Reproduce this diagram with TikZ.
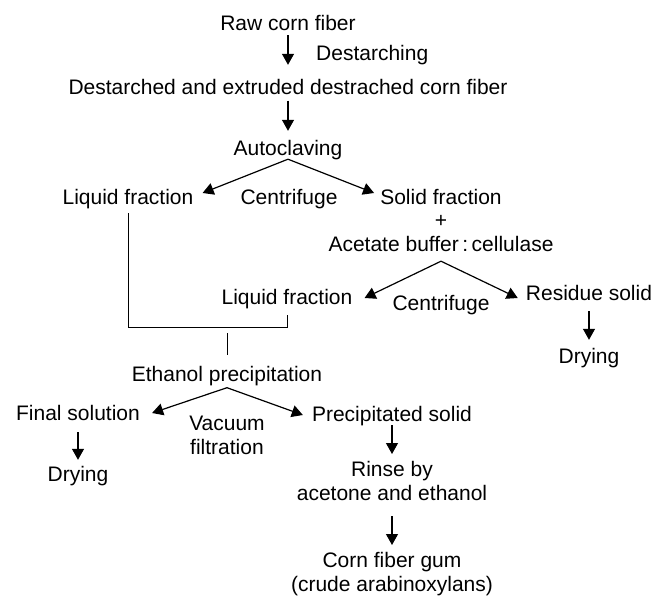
\documentclass[tikz,border=0pt]{standalone}
\usepackage{fontspec}
\setmainfont{Liberation Sans}
\usetikzlibrary{arrows.meta}

\begin{document}
\begin{tikzpicture}[x=1pt, y=-1pt,
    txt/.style={font=\fontsize{21}{24}\selectfont, inner sep=2pt, text height=15pt, text depth=4pt},
    mtxt/.style={font=\fontsize{21}{24}\selectfont, inner sep=2pt, align=center, anchor=north},
    arr/.style={-{Triangle[length=11pt,width=12pt]}, line width=1.2pt},
    ln/.style={line width=1pt}
]
\useasboundingbox (0,0) rectangle (666,597);

% top chain
\node[txt] (raw) at (288,25) {Raw corn fiber};
\node[txt, anchor=west] (dsl) at (314,55) {Destarching};
\node[txt] (dest) at (288,89) {Destarched and extruded destrached corn fiber};
\node[txt] (auto) at (288,150) {Autoclaving};

% first centrifuge
\node[txt] (liq1) at (128,199) {Liquid fraction};
\node[txt] (cen1) at (289,199) {Centrifuge};
\node[txt] (sol) at (441,199) {Solid fraction};
\node[txt] (plus) at (441,222) {+};
\node[txt] (acet) at (441,246) {Acetate buffer\,:\,cellulase};

% second centrifuge
\node[txt] (liq2) at (287,299) {Liquid fraction};
\node[txt] (cen2) at (441,305) {Centrifuge};
\node[txt] (res) at (589,295) {Residue solid};
\node[txt] (dry1) at (589,358) {Drying};

% precipitation
\node[txt] (eth) at (227,376) {Ethanol precipitation};
\node[txt] (fin) at (78,415) {Final solution};
\node[mtxt] (vac) at (227,413.5) {Vacuum\\filtration};
\node[txt] (prec) at (392,416) {Precipitated solid};
\node[txt] (dry2) at (78,476) {Drying};
\node[mtxt] (rinse) at (392,459) {Rinse by\\acetone and ethanol};
\node[mtxt] (gum) at (392,550) {Corn fiber gum\\(crude arabinoxylans)};

\draw[arr] ([yshift=1.5pt]raw.south) -- ([yshift=12.5pt]dest.north);
\draw[arr] (dest.south) -- ([yshift=7.5pt]auto.north);
\draw[arr] ([yshift=2.5pt]auto.south) -- ([xshift=7pt,yshift=6pt]liq1.east);
\draw[arr] ([yshift=2.5pt]auto.south) -- ([xshift=-4pt,yshift=6pt]sol.west);
\draw[arr] ([yshift=-3.5pt]acet.south) -- ([xshift=10pt,yshift=1pt]liq2.east);
\draw[arr] ([yshift=-3.5pt]acet.south) -- ([xshift=-6pt,yshift=-3pt]res.west);
\draw[arr] ([yshift=-4.5pt]res.south) -- ([yshift=6.5pt]dry1.north);
\draw[ln] ([yshift=-2.5pt]liq1.south) |- ([yshift=-16.5pt]liq2.south) -- ([yshift=-4.5pt]liq2.south);
\draw[ln] ([yshift=9.5pt]eth.north) -- ++(0,-22);
\draw[arr] (eth.south) -- ([xshift=10pt,yshift=2pt]fin.east);
\draw[arr] (eth.south) -- ([xshift=-7pt,yshift=1pt]prec.west);
\draw[arr] ([yshift=-5.5pt]fin.south) -- ([yshift=4.5pt]dry2.north);
\draw[arr] ([yshift=2.5pt]prec.south) -- ([yshift=5pt]rinse.north);
\draw[arr] ([yshift=-13.5pt]rinse.south) -- ([yshift=5pt]gum.north);
\end{tikzpicture}
\end{document}
